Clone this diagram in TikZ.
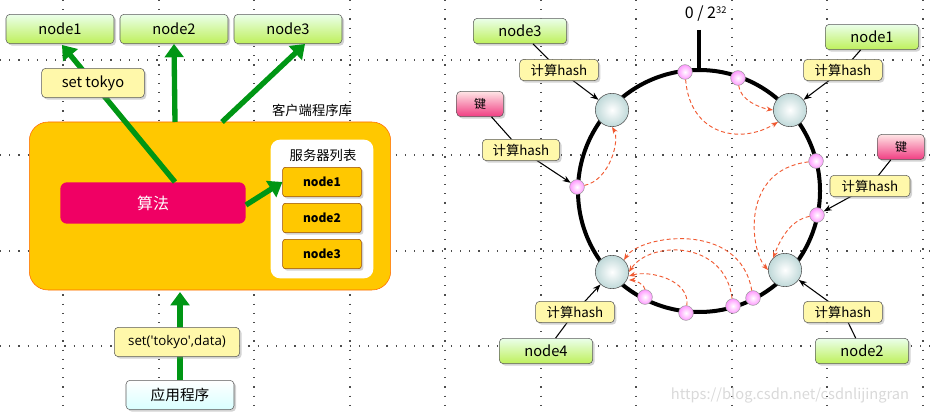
\documentclass[tikz,border=0pt]{standalone}
\usepackage{fontspec}
\setmainfont{Noto Sans CJK SC}
\newfontfamily\latf{Open Sans}
\usetikzlibrary{arrows.meta,shadows}
\definecolor{gr}{RGB}{0,150,20}
\definecolor{org}{RGB}{255,200,0}
\definecolor{mag}{RGB}{240,0,100}
\definecolor{ylw}{RGB}{255,248,170}
\definecolor{dsh}{RGB}{240,90,50}
\tikzset{
 box/.style={draw=gray!70!black,rounded corners=3pt,drop shadow={shadow xshift=1.5pt,shadow yshift=-1.5pt,opacity=.35},font=\fontsize{11}{12}\selectfont},
 gnode/.style={box,top color=green!8!white,bottom color={rgb,255:red,190;green,240;blue,90}},
 hbox/.style={box,fill=ylw,font=\fontsize{10}{12}\selectfont},
 knode/.style={box,top color=pink!40!white,bottom color={rgb,255:red,240;green,60;blue,130},font=\fontsize{9}{10}\selectfont},
 anode/.style={box,top color=white,bottom color=cyan!15!white},
 snode/.style={draw=orange!60!black,rounded corners=2pt,fill=org,font=\bfseries\fontsize{9}{10}\selectfont,drop shadow={shadow xshift=1.5pt,shadow yshift=-1.5pt,opacity=.35}},
 garrow/.style={draw=gr,line width=4pt,-{Triangle[length=10pt,width=14pt]}},
 big/.style={circle,draw=black!70,inner sep=0pt,minimum size=25pt,inner color=white,outer color=cyan!25!gray!40},
 small/.style={circle,draw=black!40,inner sep=0pt,minimum size=11pt,inner color=white,outer color=magenta!40},
 thin/.style={draw=black,line width=0.8pt,-{Stealth[length=6pt]}},
 red/.style={draw=dsh,densely dashed,line width=0.7pt,-{Stealth[length=5pt]}},
 grid/.style={black!70,line width=0.9pt,dash pattern=on 0.9pt off 6pt},
}
\begin{document}
\begin{tikzpicture}[x=0.75pt,y=-0.75pt]
\useasboundingbox (0,0) rectangle (931,413);
% grid
\foreach \x in {63,159,254,350,445,541,636,732,827,923}
  \draw[grid] (\x,0) -- (\x,413);
\foreach \y in {60,155,251,346}
  \draw[grid] (0,\y) -- (931,\y);
% ---------- left ----------
\node[gnode,minimum width=81pt,minimum height=22pt] (n1) at (60,29) {node1};
\node[gnode,minimum width=81pt,minimum height=22pt] (n2) at (174,29) {node2};
\node[gnode,minimum width=81pt,minimum height=22pt] (n3) at (288,29) {node3};
\node[draw=orange!80!red,fill=org,rounded corners=14pt,minimum width=271pt,minimum height=126pt] (lib) at (210,206) {};
\node[font=\fontsize{10}{12}\selectfont] (libl) at (312,110) {客户端程序库};
\node[fill=mag,rounded corners=5pt,minimum width=139pt,minimum height=31pt,text=white,font=\fontsize{12}{14}\selectfont] (alg) at (153,203) {算法};
\node[fill=white,rounded corners=7pt,minimum width=77pt,minimum height=104pt] (pan) at (322,209) {};
\node[font=\fontsize{10}{12}\selectfont] (panl) at (323,155) {服务器列表};
\node[snode,minimum width=59pt,minimum height=22pt] (s1) at (322,182) {node1};
\node[snode,minimum width=59pt,minimum height=22pt] (s2) at (322,218) {node2};
\node[snode,minimum width=59pt,minimum height=22pt] (s3) at (322,254) {node3};
\node[anode,minimum width=81pt,minimum height=22pt] (app) at (180,395) {应用程序};
\coordinate (a1) at (175,182);
\coordinate (a2) at (175,122);
\coordinate (a3) at (222,122);
\coordinate (b1) at (180,292);
\draw[garrow] (a1) -- (62,45);
\node[hbox,minimum width=77pt,minimum height=22pt,font=\fontsize{11}{12}\selectfont] (st) at (93,83) {set tokyo};
\draw[garrow] (a2) -- (n2.south);
\draw[garrow] (a3) -- (305,44);
\draw[garrow] (alg.east) ++(0,2) -- (s1.west);
\draw[garrow] (app.north) -- (b1);
\node[hbox,minimum width=94pt,minimum height=22pt,font=\latf\fontsize{10}{12}\selectfont] (sd) at (177,342) {set('tokyo',data)};
% ---------- right ----------
\coordinate (c) at (699,191);
\draw[line width=3pt] (c) circle[radius=90.75pt];
\coordinate (tk) at (699,30);
\draw[line width=3pt] (tk) -- (699,72);
\node[font=\fontsize{12}{14}\selectfont] (zero) at (706,14) {0 / 2\textsuperscript{\fontsize{7}{8}\selectfont 32}};
\node[big] (B3) at (612,110) {};
\node[big] (B1) at (790,110) {};
\node[big] (B4) at (612,272) {};
\node[big] (B2) at (785,270) {};
\foreach \n/\p in {p1/{685,72},p2/{738,78},p3/{577,187},p4/{816,161},p5/{817,215},p6/{645,297},p7/{686,313},p8/{733,306},p9/{753,298}}
  \node[small] (\n) at (\p) {};
% labels
\node[gnode,minimum width=70pt,minimum height=19pt] (r3) at (520,31) {node3};
\node[gnode,minimum width=70pt,minimum height=19pt] (r1) at (872,37) {node1};
\node[gnode,minimum width=70pt,minimum height=19pt] (r4) at (546,351) {node4};
\node[gnode,minimum width=70pt,minimum height=19pt] (r2) at (862,351) {node2};
\node[knode,minimum width=35pt,minimum height=19pt] (k1) at (480,104) {键};
\node[knode,minimum width=35pt,minimum height=19pt] (k2) at (901,147) {键};
\draw[line width=0.8pt] (r3) -- (559,70);
\draw[thin] (559,70) -- (B3);
\draw[line width=0.8pt] (k1) -- (521,150);
\draw[thin] (521,150) -- (p3);
\draw[line width=0.8pt] (r1) -- (843,70);
\draw[thin] (843,70) -- (B1);
\draw[line width=0.8pt] (k2) -- (870,186);
\draw[thin] (870,186) -- (p5);
\draw[line width=0.8pt] (r4) -- (575,312);
\draw[thin] (575,312) -- (B4);
\draw[line width=0.8pt] (r2) -- (843,312);
\draw[thin] (843,312) -- (B2);
\node[hbox,minimum width=59pt,minimum height=16pt] (h3) at (559,70) {计算hash};
\node[hbox,minimum width=58pt,minimum height=16pt] (hk1) at (521,150) {计算hash};
\node[hbox,minimum width=59pt,minimum height=16pt] (h1) at (843,70) {计算hash};
\node[hbox,minimum width=60pt,minimum height=16pt] (hk2) at (870,186) {计算hash};
\node[hbox,minimum width=59pt,minimum height=16pt] (h4) at (575,312) {计算hash};
\node[hbox,minimum width=59pt,minimum height=16pt] (h2) at (843,312) {计算hash};
% dashed
\draw[red] (p1) .. controls (690,135) and (740,145) .. (B1.south west);
\draw[red] (p2) .. controls (740,100) and (760,108) .. (B1.west);
\draw[red] (p3) .. controls (610,180) and (620,140) .. (B3.south);
\draw[red] (p4) .. controls (740,170) and (750,250) .. (B2.west);
\draw[red] (p5) .. controls (790,220) and (780,240) .. (B2.north west);
\draw[red] (p9) .. controls (740,220) and (640,235) .. (B4.north east);
\draw[red] (p8) .. controls (725,240) and (650,240) .. (B4.east);
\draw[red] (p7) .. controls (690,280) and (650,270) .. ([yshift=-3pt]B4.east);
\draw[red] (p6) .. controls (645,285) and (635,280) .. ([yshift=-6pt]B4.east);
\node[text=black!15,font=\fontsize{11}{12}\selectfont] (wm) at (790,395) {https://blog.csdn.net/csdnlijingran};
\end{tikzpicture}
\end{document}
